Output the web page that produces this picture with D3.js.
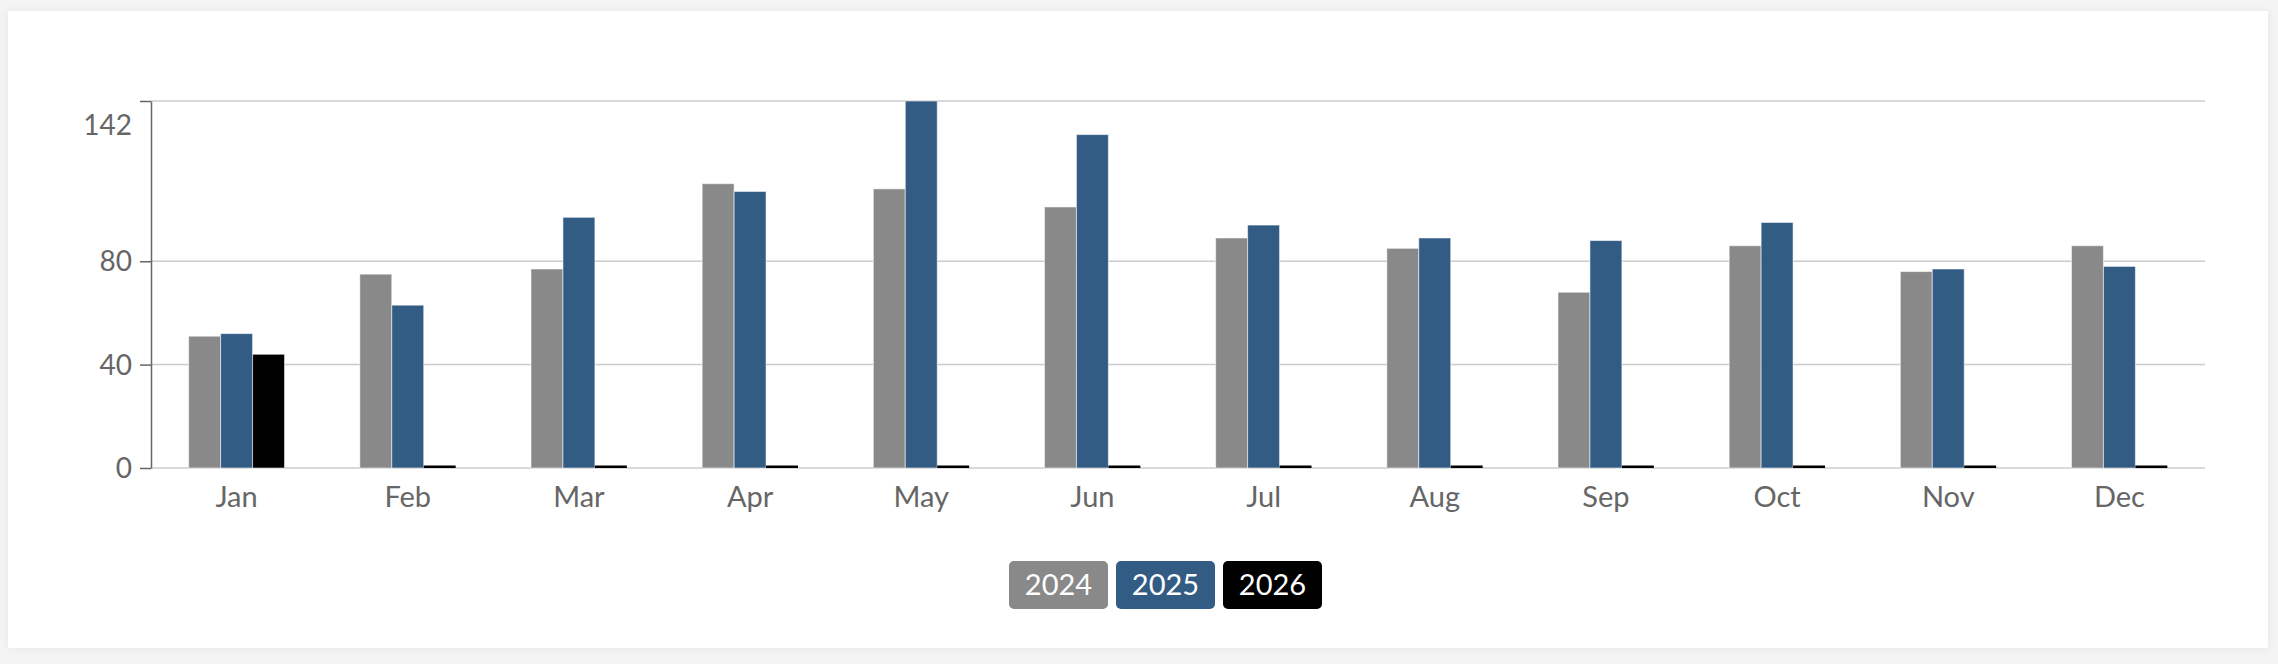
<!DOCTYPE html>
<html>
<head>
<meta charset="utf-8">
<script src="https://cdn.jsdelivr.net/npm/d3@7"></script>
<style>
  html, body { margin: 0; padding: 0; background: #f4f4f4; }
  #chart { width: 2278px; height: 664px; }
  text { font-family: Lato, "Open Sans", sans-serif; }
</style>
</head>
<body>
<div id="chart"></div>
<script>
const MONTHS = ["Jan", "Feb", "Mar", "Apr", "May", "Jun", "Jul", "Aug", "Sep", "Oct", "Nov", "Dec"];
const YEARS = ["2024", "2025", "2026"];
const VALUES_2024 = [51, 75, 77, 110, 108, 101, 89, 85, 68, 86, 76, 86];
const VALUES_2025 = [52, 63, 97, 107, 142, 129, 94, 89, 88, 95, 77, 78];
const VALUES_2026 = [44, 0, 0, 0, 0, 0, 0, 0, 0, 0, 0, 0];
const Y_TICKS = [0, 40, 80, 142];
const Y_MAX = 142;

const COLORS = { "2024": "#898989", "2025": "#325c84", "2026": "#000000" };

const WIDTH = 2278, HEIGHT = 664;
const PLOT = { left: 151, right: 2205, top: 101, bottom: 468 };

const series = { "2024": VALUES_2024, "2025": VALUES_2025, "2026": VALUES_2026 };
const data = MONTHS.map((m, i) => ({
    month: m,
    values: YEARS.map(yr => ({ year: yr, value: series[yr][i] }))
}));

const svg = d3.select("#chart")
    .append("svg")
    .attr("width", WIDTH)
    .attr("height", HEIGHT);

// card with soft shadow
const defs = svg.append("defs");
const shadow = defs.append("filter").attr("id", "shadow")
    .attr("x", "-5%").attr("y", "-5%").attr("width", "110%").attr("height", "110%");
shadow.append("feDropShadow")
    .attr("dx", 0).attr("dy", 0).attr("stdDeviation", 4)
    .attr("flood-color", "#000").attr("flood-opacity", 0.06);

svg.append("rect")
    .attr("x", 8).attr("y", 11)
    .attr("width", 2260).attr("height", 637)
    .attr("fill", "#fff")
    .attr("filter", "url(#shadow)");

const x = d3.scaleBand()
    .domain(MONTHS)
    .range([PLOT.left, PLOT.right])
    .paddingInner(0.44)
    .paddingOuter(0.22);

const xInner = d3.scaleBand()
    .domain(YEARS)
    .range([0, x.bandwidth()]);

const y = d3.scaleLinear()
    .domain([0, Y_MAX])
    .range([PLOT.bottom, PLOT.top]);

// gridlines
svg.append("g")
    .selectAll("line")
    .data(Y_TICKS)
    .join("line")
    .attr("x1", PLOT.left)
    .attr("x2", PLOT.right)
    .attr("y1", d => y(d))
    .attr("y2", d => y(d))
    .attr("stroke", "#cccccc")
    .attr("stroke-width", 1.5);

// bars
const groups = svg.append("g")
    .selectAll("g")
    .data(data)
    .join("g")
    .attr("transform", d => `translate(${x(d.month)}, 0)`);

groups.selectAll("rect")
    .data(d => d.values)
    .join("rect")
    .attr("x", d => xInner(d.year))
    .attr("width", xInner.bandwidth())
    .attr("y", d => Math.min(y(d.value), y(0) - 2.5))
    .attr("height", d => Math.max(y(0) - y(d.value), 2.5))
    .attr("fill", d => COLORS[d.year])
    .attr("stroke", d => d.value === 0 ? "none" : "#ffffff")
    .attr("stroke-opacity", 0.55)
    .attr("stroke-width", 1);

// y axis
const yAxis = svg.append("g")
    .attr("transform", `translate(${PLOT.left}, 0)`)
    .call(d3.axisLeft(y).tickValues(Y_TICKS).tickSize(11).tickPadding(8).tickSizeOuter(0));

yAxis.select(".domain").attr("stroke", "#666").attr("stroke-width", 1.5);
yAxis.selectAll(".tick line").attr("stroke", "#666").attr("stroke-width", 1.5);
yAxis.selectAll(".tick text")
    .attr("fill", "#666")
    .style("font-size", "28px")
    .attr("dy", d => d === Y_MAX ? "1.2em" : "0.34em");

// x axis labels
const xAxis = svg.append("g")
    .attr("transform", `translate(0, ${PLOT.bottom})`)
    .call(d3.axisBottom(x).tickSize(0).tickPadding(18));

xAxis.select(".domain").remove();
xAxis.selectAll(".tick text")
    .attr("fill", "#666")
    .style("font-size", "29px");

// legend
const LEGEND = { left: 1009, width: 99, height: 48, gap: 8, top: 561 };
const legend = svg.append("g")
    .attr("transform", `translate(${LEGEND.left}, ${LEGEND.top})`);

const items = legend.selectAll("g")
    .data(YEARS)
    .join("g")
    .attr("transform", (d, i) => `translate(${i * (LEGEND.width + LEGEND.gap)}, 0)`);

items.append("rect")
    .attr("width", LEGEND.width)
    .attr("height", LEGEND.height)
    .attr("rx", 5)
    .attr("fill", d => COLORS[d]);

items.append("text")
    .attr("x", LEGEND.width / 2)
    .attr("y", LEGEND.height / 2)
    .attr("dy", "0.36em")
    .attr("text-anchor", "middle")
    .attr("fill", "#fff")
    .style("font-size", "29px")
    .text(d => d);
</script>
</body>
</html>
